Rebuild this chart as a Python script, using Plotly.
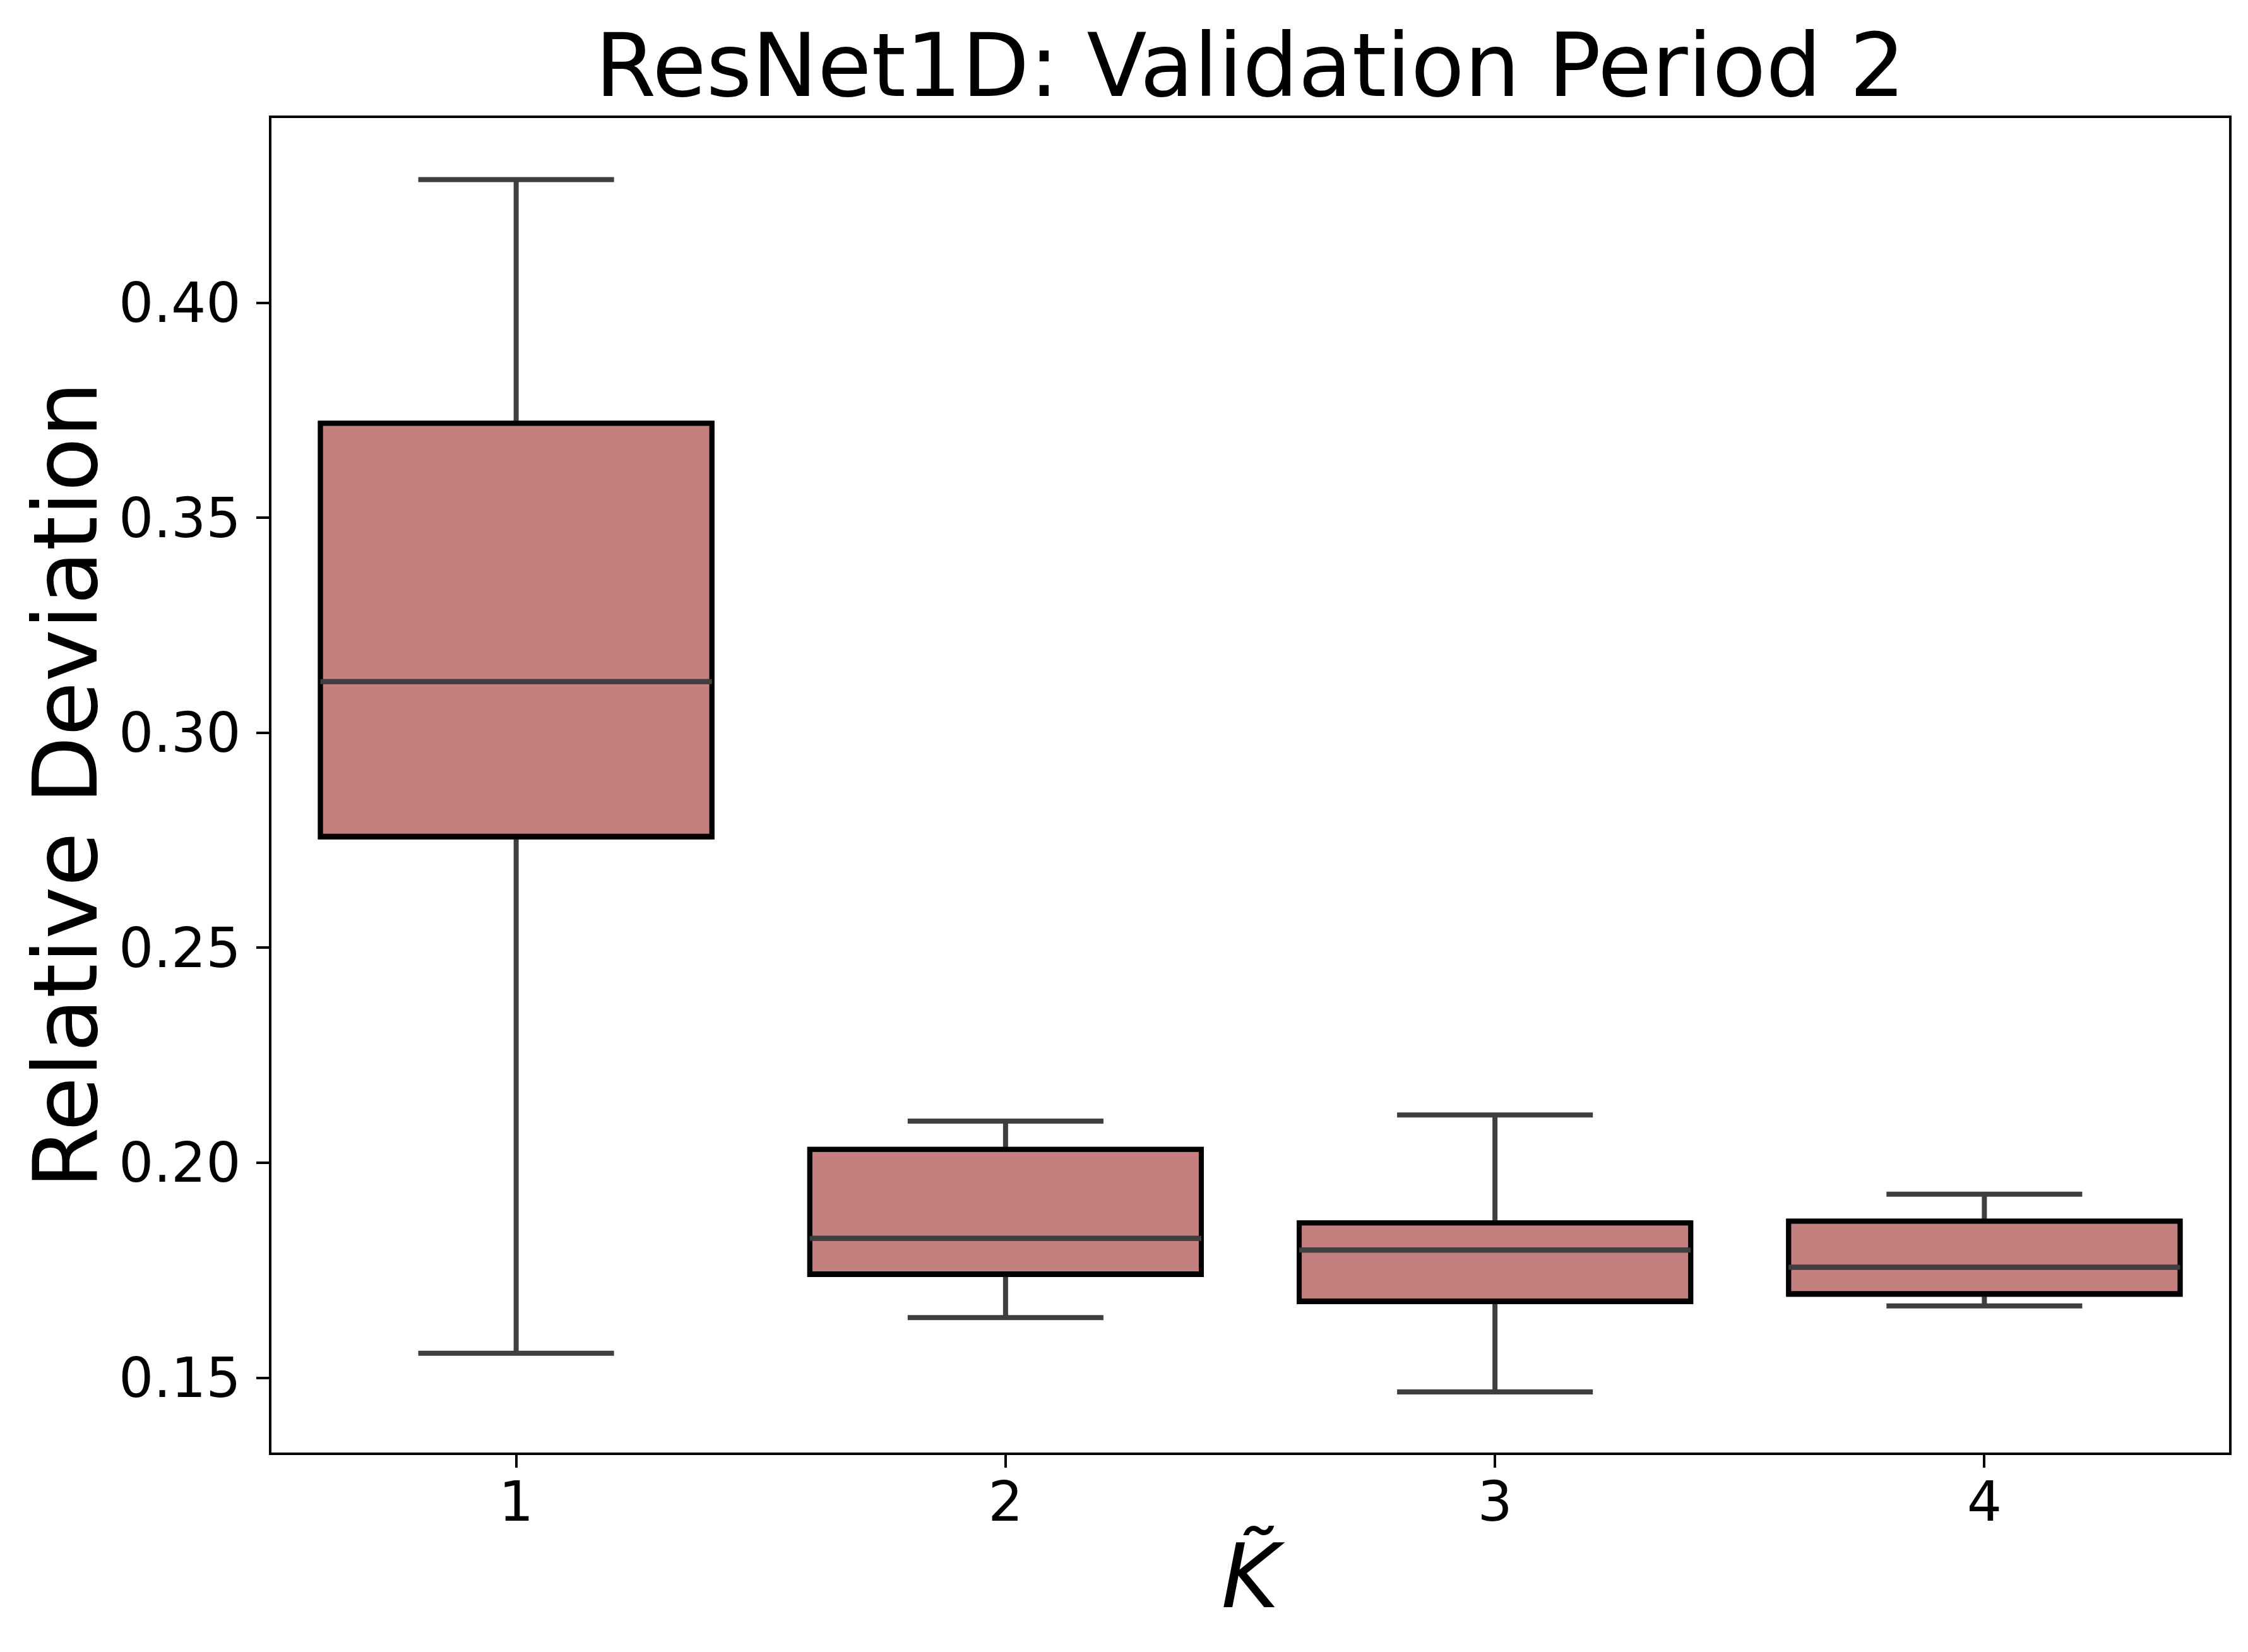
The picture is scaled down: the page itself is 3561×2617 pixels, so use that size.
import plotly.graph_objects as go

# ---- data ----
k_values = [1, 2, 3, 4]
lower_fence = [0.1557, 0.1640, 0.1467, 0.1667]
q1_values = [0.2758, 0.1740, 0.1677, 0.1694]
median_values = [0.3119, 0.1824, 0.1797, 0.1757]
q3_values = [0.3720, 0.2031, 0.1860, 0.1864]
upper_fence = [0.4287, 0.2097, 0.2111, 0.1927]

y_ticks = [0.15, 0.20, 0.25, 0.30, 0.35, 0.40]
y_tick_labels = ["0.15", "0.20", "0.25", "0.30", "0.35", "0.40"]
x_tick_labels = ["1", "2", "3", "4"]

FILL = "#C4807E"
GRAY = "#3f3f3f"
FONT = "DejaVu Sans"

fig = go.Figure()

# full box with gray whiskers/median and filled body
fig.add_trace(go.Box(
    x=k_values, q1=q1_values, median=median_values, q3=q3_values,
    lowerfence=lower_fence, upperfence=upper_fence,
    fillcolor=FILL, line=dict(color=GRAY, width=8),
    whiskerwidth=0.5, width=0.8, boxpoints=False, showlegend=False,
    hoverinfo="skip",
))
# black outline of the box body
fig.add_trace(go.Box(
    x=k_values, q1=q1_values, median=q1_values, q3=q3_values,
    lowerfence=q1_values, upperfence=q3_values,
    fillcolor="rgba(0,0,0,0)", line=dict(color="black", width=8),
    whiskerwidth=0, width=0.8, boxpoints=False, showlegend=False,
    hoverinfo="skip",
))
# gray median on top
fig.add_trace(go.Box(
    x=k_values, q1=median_values, median=median_values, q3=median_values,
    lowerfence=median_values, upperfence=median_values,
    fillcolor="rgba(0,0,0,0)", line=dict(color=GRAY, width=8),
    whiskerwidth=0, width=0.8, boxpoints=False, showlegend=False,
    hoverinfo="skip",
))

W, H = 3561, 2617
L, R, T, B = 422, 38, 179, 324
PW = W - L - R
fig.update_layout(
    width=W, height=H,
    margin=dict(l=L, r=R, t=T, b=B),
    paper_bgcolor="white", plot_bgcolor="white",
    boxmode="overlay",
    font=dict(family=FONT, color="black"),
    title=dict(
        text="ResNet1D: Validation Period 2",
        font=dict(family=FONT, size=139, color="black"),
        x=(L + (W - R)) / 2 / W, xanchor="center",
        yref="container", y=1 - 95 / H, yanchor="middle",
    ),
    showlegend=False,
    annotations=[dict(
        text="Relative Deviation", textangle=-90,
        font=dict(family=FONT, size=140, color="black"),
        xref="paper", yref="paper", x=(96 - L) / PW, y=0.5,
        xanchor="center", yanchor="middle", showarrow=False,
    )],
)
fig.update_xaxes(
    range=[0.5, 4.5],
    tickvals=k_values, ticktext=x_tick_labels,
    tickfont=dict(family=FONT, size=87, color="black"),
    ticks="outside", ticklen=20, tickwidth=4, tickcolor="black",
    showline=True, linewidth=4, linecolor="black", mirror=True,
    showgrid=False, zeroline=False,
    ticklabelstandoff=-20,
    title=dict(text="<i>K\u0303</i>", font=dict(family=FONT, size=140, color="black"),
               standoff=20),
)
fig.update_yaxes(
    range=[0.1326, 0.443],
    tickvals=y_ticks, ticktext=y_tick_labels,
    tickfont=dict(family=FONT, size=87, color="black"),
    ticks="outside", ticklen=20, tickwidth=4, tickcolor="black",
    showline=True, linewidth=4, linecolor="black", mirror=True,
    showgrid=False, zeroline=False,
    ticklabelstandoff=7,
)

fig.write_html("out.html")
